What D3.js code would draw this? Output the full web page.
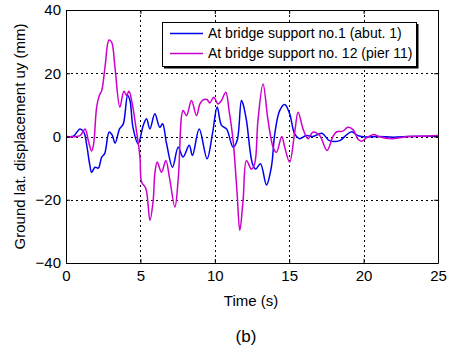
<!DOCTYPE html>
<html lang="en">
<head>
    <meta charset="UTF-8">
    <title>Ground lateral displacement</title>
    <script src="https://cdnjs.cloudflare.com/ajax/libs/d3/7.8.5/d3.min.js"></script>
    <style>
        body { margin: 0; background: #fff; }
        text { font-family: "Liberation Sans", Arial, sans-serif; fill: #000; }
    </style>
</head>
<body>
    <div id="chart"></div>
    <script>
        // time (s) / displacement (mm)
        var tAbut = [0, 0.5, 0.75, 0.94, 1.2, 1.4, 1.6, 1.72, 1.95, 2.17, 2.4, 2.6, 2.9, 3.1, 3.3, 3.6, 3.85, 4.14, 4.3, 4.5,
            4.85, 5.19, 5.41, 5.64, 5.97, 6.3, 6.49, 6.76, 7.16, 7.54, 7.87, 8.28, 8.5, 8.95, 9.48, 9.84, 10.16, 10.45, 10.79, 11.23,
            11.5, 11.79, 11.9, 12.13, 12.53, 12.75, 13.07, 13.47, 13.8, 14.03, 14.36, 14.7, 15.03, 15.37, 15.7, 16.15, 16.6, 17.2, 17.7, 18.4,
            18.8, 19.2, 19.6, 20, 21, 22, 23, 24, 25];
        var uAbut = [0, 0.1, 1.5, 2.4, 1.4, -3, -9, -11.3, -9.7, -10, -6.5, -5.4, 1.4, 0.5, -2.1, 2.4, 4, 13, 11.4, 2.9,
            -2.3, 3.5, 5.6, 2.4, 7.2, 2.9, 4, -2.3, -9.7, -3.4, -6.5, -2.8, -6, 2.4, -7, 0.8, 9.3, 3.5, 2.4, -3.4,
            -1.3, 11.4, 10.3, 5, -8.6, -10.3, -8.6, -15.3, -9.7, 0.8, 8.2, 10.1, 7.2, 0.8, -0.7, 0.3, 0, 1, -1.3, -1.3,
            0.3, 1.5, 0.3, -0.1, 0, -0.2, 0, 0.1, 0.1];

        var tPier = [0, 0.94, 1.28, 1.5, 1.72, 1.85, 2.06, 2.24, 2.4, 2.62, 2.89, 3.07, 3.29, 3.62, 3.89, 4.07, 4.23, 4.41, 4.7, 4.97,
            5.08, 5.37, 5.64, 5.86, 5.97, 6.13, 6.42, 6.71, 6.95, 7.32, 7.55, 7.87, 8.1, 8.43, 8.77, 9.0, 9.21, 9.48, 9.66, 9.93,
            10.22, 10.45, 10.74, 10.96, 11.23, 11.5, 11.68, 11.9, 12.13, 12.46, 12.68, 12.9, 13.24, 13.58, 13.92, 14.14, 14.5, 14.7, 15.03, 15.37,
            15.6, 15.93, 16.26, 16.6, 17.05, 17.54, 17.94, 18.2, 18.6, 18.95, 19.3, 19.6, 19.85, 20.2, 20.7, 21, 21.95, 23, 24, 25];
        var uPier = [0, 0.3, 2.4, -1.3, -4.6, -2.6, 9.3, 13, 14.5, 21.9, 30.5, 29.8, 21.9, 9.3, 14.3, 13, 14.3, 11.4, 2.9, -6.5,
            -14.4, -16.5, -26.5, -20.2, -11.8, -8.1, -11.3, -7.6, -12.9, -22.3, -12.9, 8.2, 6.6, 11.4, 6.6, 10.3, 11.6, 11.7, 10.6, 12.4,
            10.3, 11.4, 14, 8.2, -1.3, -18.1, -29.7, -20.2, -7.6, -10.3, -8.6, 5, 16.6, 5, -3.4, -5, 0, -3.4, -8.1, 1.4,
            7.7, 2.4, -0.7, 1.4, 0.3, -4.4, 0, 1.5, 1.7, 2.9, 2.1, -0.7, -1.5, -0.4, 0.6, 0, -0.7, 0, 0.1, 0.3];

        var xTicks = [0, 5, 10, 15, 20, 25];
        var yTicks = [-40, -20, 0, 20, 40];
        var legendLabels = ["At bridge support no.1 (abut. 1)", "At bridge support no. 12 (pier 11)"];
        var colors = ["#0000f0", "#cc00cc"];

        var width = 454, height = 351;
        var margin = { left: 66, right: 16, top: 10, bottom: 88 };

        var svg = d3.select("#chart").append("svg")
            .attr("width", width)
            .attr("height", height);

        var x = d3.scaleLinear().domain([0, 25]).range([margin.left, width - margin.right]);
        var y = d3.scaleLinear().domain([-40, 40]).range([height - margin.bottom, margin.top]);

        // dotted grid
        var grid = svg.append("g").attr("stroke", "#000").attr("stroke-width", 1).attr("stroke-dasharray", "2,3");
        grid.selectAll(".gx").data(xTicks.slice(1, -1)).enter().append("line")
            .attr("x1", d => Math.round(x(d)) + 0.5).attr("x2", d => Math.round(x(d)) + 0.5)
            .attr("y1", y(40)).attr("y2", y(-40));
        grid.selectAll(".gy").data(yTicks.slice(1, -1)).enter().append("line")
            .attr("y1", d => Math.round(y(d)) + 0.5).attr("y2", d => Math.round(y(d)) + 0.5)
            .attr("x1", x(0)).attr("x2", x(25));

        // series
        var line = d3.line().curve(d3.curveCatmullRom.alpha(0.5));
        var series = [
            { t: tAbut, u: uAbut },
            { t: tPier, u: uPier }
        ];
        series.forEach(function (s, i) {
            var pts = s.t.map((t, k) => [x(t), y(s.u[k])]);
            svg.append("path")
                .attr("d", line(pts))
                .attr("fill", "none")
                .attr("stroke", colors[i])
                .attr("stroke-width", 1.5)
                .attr("stroke-linejoin", "round");
        });

        // axes with inward ticks, box around
        var xAxis = svg.append("g").attr("transform", "translate(0," + y(-40) + ")")
            .call(d3.axisBottom(x).tickValues(xTicks).tickSizeInner(-4).tickSizeOuter(0).tickPadding(7));
        var yAxis = svg.append("g").attr("transform", "translate(" + x(0) + ",0)")
            .call(d3.axisLeft(y).tickValues(yTicks).tickSizeInner(-4).tickSizeOuter(0).tickPadding(5));
        svg.append("g").attr("transform", "translate(0," + y(40) + ")")
            .call(d3.axisTop(x).tickValues(xTicks).tickSizeInner(-4).tickSizeOuter(0).tickFormat(""));
        svg.append("g").attr("transform", "translate(" + x(25) + ",0)")
            .call(d3.axisRight(y).tickValues(yTicks).tickSizeInner(-4).tickSizeOuter(0).tickFormat(""));
        svg.selectAll(".domain").attr("stroke", "#000");
        svg.selectAll(".tick line").attr("stroke", "#000");
        svg.selectAll(".tick text").style("font-size", "15px").style("font-family", "'Liberation Sans', Arial, sans-serif");

        // legend
        var lg = svg.append("g");
        var lx = 162, ly = 22, lw = 254, lh = 44;
        lg.append("rect").attr("x", lx + 0.5).attr("y", ly + 0.5).attr("width", lw).attr("height", lh)
            .attr("fill", "#fff").attr("stroke", "#000").attr("stroke-width", 1);
        lg.append("path")
            .attr("d", "M" + (lx + 2) + "," + (ly + lh + 1.5) + "H" + (lx + lw + 1.5) + "V" + (ly + 2))
            .attr("fill", "none").attr("stroke", "#000").attr("stroke-width", 2);
        legendLabels.forEach(function (lab, i) {
            var cy = ly + 11 + i * 20;
            lg.append("line").attr("x1", lx + 8).attr("x2", lx + 41)
                .attr("y1", cy + 0.5).attr("y2", cy + 0.5)
                .attr("stroke", colors[i]).attr("stroke-width", 1.5);
            lg.append("text").attr("x", lx + 46).attr("y", cy + 5)
                .style("font-size", "14px").text(lab);
        });

        // labels
        svg.append("text").attr("x", 251).attr("y", 306).attr("text-anchor", "middle")
            .style("font-size", "15px").text("Time (s)");
        svg.append("text").attr("transform", "translate(25," + y(0) + ") rotate(-90)")
            .attr("text-anchor", "middle").style("font-size", "15px")
            .text("Ground lat. displacement uy (mm)");
        svg.append("text").attr("x", 246).attr("y", 342).attr("text-anchor", "middle")
            .style("font-size", "17px").text("(b)");
    </script>
</body>
</html>
